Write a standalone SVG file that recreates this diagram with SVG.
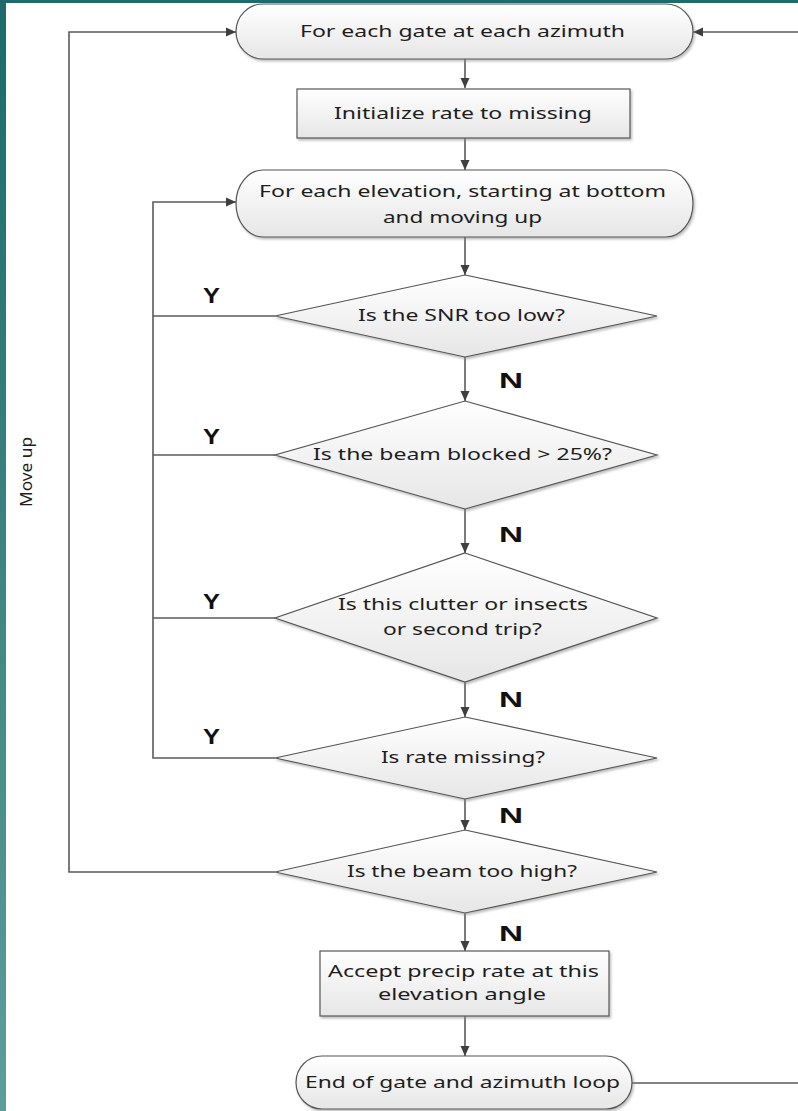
<svg xmlns="http://www.w3.org/2000/svg" width="798" height="1111" viewBox="0 0 798 1111">
  <defs>
    <linearGradient id="teal" x1="0" y1="0" x2="0" y2="1">
      <stop offset="0" stop-color="#1c6a6a"/>
      <stop offset="1" stop-color="#5c9e9c"/>
    </linearGradient>
    <linearGradient id="fillg" x1="0" y1="0" x2="0" y2="1">
      <stop offset="0" stop-color="#ffffff"/>
      <stop offset="1" stop-color="#e6e6e6"/>
    </linearGradient>
    <filter id="sh" x="-5%" y="-5%" width="115%" height="125%">
      <feDropShadow dx="1.5" dy="2" stdDeviation="1.2" flood-color="#8a8a8a" flood-opacity="0.55"/>
    </filter>
    <marker id="arr" viewBox="0 0 10 10" refX="10" refY="5" markerWidth="10" markerHeight="10" markerUnits="userSpaceOnUse" orient="auto">
      <path d="M0,0.5 L10,5 L0,9.5 z" fill="#3f3f3f"/>
    </marker>
    <style>
      .shape { fill: url(#fillg); stroke: #555555; stroke-width: 1.2; filter: url(#sh); }
      .lbl { font-family: "Noto Sans", "Open Sans", sans-serif; font-size: 15.5px; fill: #1e1e1e; text-anchor: middle; }
      .yn { font-family: "Liberation Sans", Arial, sans-serif; font-size: 22px; font-weight: bold; fill: #111111; }
      .conn { fill: none; stroke: #5a5a5a; stroke-width: 1.6; }
    </style>
  </defs>

  <rect x="0" y="0" width="798" height="1111" fill="#ffffff"/>
  <rect x="0" y="0" width="798" height="3" fill="#1e6b6b"/>
  <rect x="0" y="0" width="6" height="1111" fill="url(#teal)"/>

  <g id="connectors">
    <path class="conn" d="M465,59 V88" marker-end="url(#arr)"/>
    <path class="conn" d="M465,138 V170" marker-end="url(#arr)"/>
    <path class="conn" d="M465,237 V275" marker-end="url(#arr)"/>
    <path class="conn" d="M465,357 V401" marker-end="url(#arr)"/>
    <path class="conn" d="M465,509 V553" marker-end="url(#arr)"/>
    <path class="conn" d="M465,682 V717" marker-end="url(#arr)"/>
    <path class="conn" d="M465,799 V830" marker-end="url(#arr)"/>
    <path class="conn" d="M465,913 V951" marker-end="url(#arr)"/>
    <path class="conn" d="M465,1016 V1056" marker-end="url(#arr)"/>
    <path class="conn" d="M275,316 H153"/>
    <path class="conn" d="M275,455 H153"/>
    <path class="conn" d="M275,618 H153"/>
    <path class="conn" d="M275,758 H153 V202 H236" marker-end="url(#arr)"/>
    <path class="conn" d="M275,872 H69 V32 H236" marker-end="url(#arr)"/>
    <path class="conn" d="M798,32 H693" marker-end="url(#arr)"/>
    <path class="conn" d="M632,1083 H798"/>
  </g>

  <g id="labels-yn">
    <text class="yn" x="203" y="303" textLength="17" lengthAdjust="spacingAndGlyphs">Y</text>
    <text class="yn" x="203" y="444" textLength="17" lengthAdjust="spacingAndGlyphs">Y</text>
    <text class="yn" x="203" y="609" textLength="17" lengthAdjust="spacingAndGlyphs">Y</text>
    <text class="yn" x="203" y="744" textLength="17" lengthAdjust="spacingAndGlyphs">Y</text>
    <text class="yn" x="499" y="388" textLength="24" lengthAdjust="spacingAndGlyphs">N</text>
    <text class="yn" x="499" y="542" textLength="24" lengthAdjust="spacingAndGlyphs">N</text>
    <text class="yn" x="499" y="707" textLength="24" lengthAdjust="spacingAndGlyphs">N</text>
    <text class="yn" x="499" y="823" textLength="24" lengthAdjust="spacingAndGlyphs">N</text>
    <text class="yn" x="499" y="941" textLength="24" lengthAdjust="spacingAndGlyphs">N</text>
  </g>

  <g id="move-up">
    <text class="lbl" transform="translate(32,472) rotate(-90)" x="0" y="0" textLength="70" lengthAdjust="spacingAndGlyphs">Move up</text>
  </g>

  <g id="start-gate">
    <rect class="shape" x="236" y="4" width="457" height="55" rx="27" ry="27.5"/>
    <text class="lbl" x="462.5" y="37" textLength="325" lengthAdjust="spacingAndGlyphs">For each gate at each azimuth</text>
  </g>

  <g id="init-rate">
    <rect class="shape" x="297" y="89" width="333" height="49"/>
    <text class="lbl" x="463" y="119" textLength="258" lengthAdjust="spacingAndGlyphs">Initialize rate to missing</text>
  </g>

  <g id="start-elev">
    <rect class="shape" x="236" y="170" width="457" height="67" rx="27" ry="33.5"/>
    <text class="lbl" x="462.5" y="197" textLength="407" lengthAdjust="spacingAndGlyphs">For each elevation, starting at bottom</text>
    <text class="lbl" x="462.5" y="223" textLength="159" lengthAdjust="spacingAndGlyphs">and moving up</text>
  </g>

  <g id="snr">
    <polygon class="shape" points="465,275 657,316 465,357 275,316"/>
    <text class="lbl" x="461.5" y="321" textLength="207" lengthAdjust="spacingAndGlyphs">Is the SNR too low?</text>
  </g>

  <g id="blocked">
    <polygon class="shape" points="465,401 657,455 465,509 275,455"/>
    <text class="lbl" x="462.5" y="460" textLength="299" lengthAdjust="spacingAndGlyphs">Is the beam blocked &gt; 25%?</text>
  </g>

  <g id="clutter">
    <polygon class="shape" points="465,553 657,618 465,682 275,618"/>
    <text class="lbl" x="463" y="610" textLength="250" lengthAdjust="spacingAndGlyphs">Is this clutter or insects</text>
    <text class="lbl" x="462.5" y="635" textLength="159" lengthAdjust="spacingAndGlyphs">or second trip?</text>
  </g>

  <g id="rate-missing">
    <polygon class="shape" points="465,717 657,758 465,799 275,758"/>
    <text class="lbl" x="463" y="763" textLength="164" lengthAdjust="spacingAndGlyphs">Is rate missing?</text>
  </g>

  <g id="too-high">
    <polygon class="shape" points="465,830 657,872 465,913 275,872"/>
    <text class="lbl" x="462" y="877" textLength="230" lengthAdjust="spacingAndGlyphs">Is the beam too high?</text>
  </g>

  <g id="accept">
    <rect class="shape" x="320" y="951" width="289" height="65"/>
    <text class="lbl" x="463.5" y="977" textLength="271" lengthAdjust="spacingAndGlyphs">Accept precip rate at this</text>
    <text class="lbl" x="462" y="1000" textLength="168" lengthAdjust="spacingAndGlyphs">elevation angle</text>
  </g>

  <g id="end-loop">
    <rect class="shape" x="296" y="1056" width="336" height="53" rx="26" ry="26.5"/>
    <text class="lbl" x="462.5" y="1088" textLength="315" lengthAdjust="spacingAndGlyphs">End of gate and azimuth loop</text>
  </g>
</svg>
